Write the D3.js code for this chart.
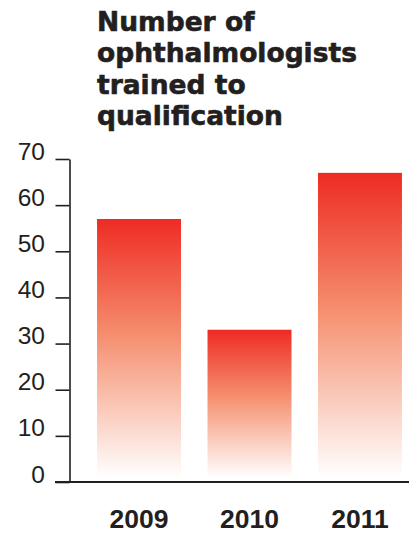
<!DOCTYPE html>
<html>
<head>
<meta charset="utf-8">
<script src="https://cdn.jsdelivr.net/npm/d3@7"></script>
<style>
  body { margin: 0; background: #fff; }
  svg { display: block; font-family: "Liberation Sans", Arial, sans-serif; }
</style>
</head>
<body>
<div id="chart"></div>
<script>
// chart values
const YEARS = ["2009", "2010", "2011"];
const TRAINED = [57, 33, 67];
const Y_TICKS = [0, 10, 20, 30, 40, 50, 60, 70];
const TITLE_LINES = ["Number of", "ophthalmologists", "trained to", "qualification"];

const WIDTH = 409;
const HEIGHT = 533;
const INK = "#231f20";
const RED = "#ee2b24";

const svg = d3.select("#chart")
  .append("svg")
  .attr("width", WIDTH)
  .attr("height", HEIGHT);

// vertical gradient red at top fading to white at the bottom of each bar
const grad = svg.append("defs")
  .append("linearGradient")
  .attr("id", "barFade")
  .attr("x1", 0).attr("y1", 0)
  .attr("x2", 0).attr("y2", 1);
grad.append("stop").attr("offset", "0%").attr("stop-color", RED);
grad.append("stop").attr("offset", "45%").attr("stop-color", "#f58f6f");
grad.append("stop").attr("offset", "100%").attr("stop-color", "#ffffff");

const xScale = d3.scaleBand()
  .domain(YEARS)
  .range([86, 413])
  .paddingInner(0.24)
  .paddingOuter(0.1);

const yScale = d3.scaleLinear()
  .domain([0, 70])
  .range([482, 159]);

// title, heavy face (a thin stroke thickens it towards a black weight)
svg.append("g")
  .selectAll("text")
  .data(TITLE_LINES)
  .join("text")
  .attr("x", 97)
  .attr("y", (d, i) => 31 + i * 31.3)
  .attr("font-size", 26.5)
  .attr("font-weight", "bold")
  .attr("font-family", "DejaVu Sans, sans-serif")
  .attr("fill", INK)
  .attr("stroke", INK)
  .attr("stroke-width", 0.6)
  .text(d => d);

// bars
svg.append("g")
  .selectAll("rect")
  .data(TRAINED)
  .join("rect")
  .attr("x", (d, i) => xScale(YEARS[i]))
  .attr("width", xScale.bandwidth())
  .attr("y", d => yScale(d))
  .attr("height", d => yScale(0) - 4 - yScale(d))
  .attr("fill", "url(#barFade)");

// y axis, labels sit with their baseline on the tick
const yAxis = svg.append("g")
  .attr("transform", "translate(69.5,0)")
  .call(d3.axisLeft(yScale).tickValues(Y_TICKS).tickSize(14).tickPadding(10.5).tickSizeOuter(0));
yAxis.select(".domain").attr("stroke", INK).attr("stroke-width", 1.6);
yAxis.selectAll(".tick line").attr("stroke", INK).attr("stroke-width", 1.6);
yAxis.selectAll(".tick text")
  .attr("font-size", 24.5)
  .attr("font-family", "Liberation Sans, Arial, sans-serif")
  .attr("fill", INK)
  .attr("dy", "0");

// baseline / x axis
const xAxis = svg.append("g")
  .attr("transform", `translate(0,${yScale(0)})`)
  .call(d3.axisBottom(xScale).tickSize(0).tickPadding(0));
xAxis.select(".domain")
  .attr("d", `M55,0H${WIDTH}`)
  .attr("stroke", INK)
  .attr("stroke-width", 2.2);
xAxis.selectAll(".tick text")
  .attr("y", 46)
  .attr("dy", "0")
  .attr("font-size", 26.5)
  .attr("font-weight", "bold")
  .attr("font-family", "Liberation Sans, Arial, sans-serif")
  .attr("fill", INK);
</script>
</body>
</html>
